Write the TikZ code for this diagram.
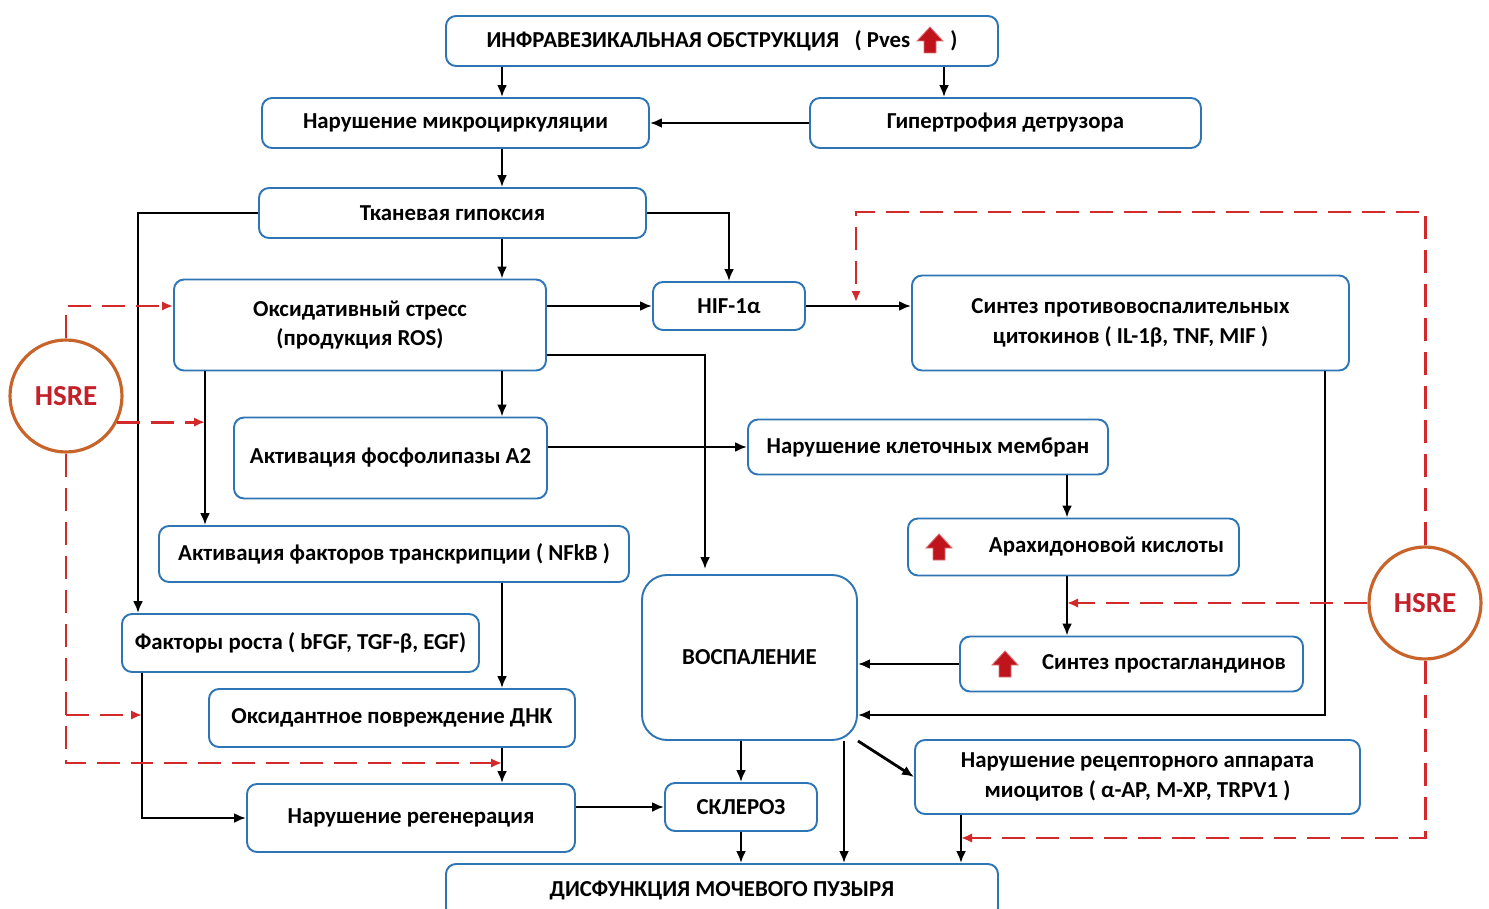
\documentclass[tikz,border=0pt]{standalone}
\usepackage{fontspec}
\setmainfont{Carlito}
\usepackage{tikz}
\usetikzlibrary{positioning, calc, arrows.meta}
\definecolor{boxblue}{HTML}{2E75B6}
\definecolor{hsred}{HTML}{D22A2A}
\definecolor{hstext}{HTML}{C4202A}
\definecolor{hsorange}{HTML}{C8642A}
\definecolor{uparred}{HTML}{C0141C}

\tikzset{
  box/.style={draw=boxblue, line width=1.1pt, rounded corners=0.2cm, fill=white, align=center,
    inner sep=0pt, font=\bfseries\fontsize{13}{17}\selectfont},
  sz/.style 2 args={minimum width=#1*0.02cm, minimum height=#2*0.02cm},
  arr/.style={-{Latex[length=2.4mm,width=2mm]}, line width=1.6pt},
  redarr/.style={-{Latex[length=2.2mm,width=1.9mm]}, draw=hsred, line width=1.7pt,
    dash pattern=on 0.46cm off 0.22cm},
  hsre/.style={circle, draw=hsorange, line width=1.8pt, minimum size=2.24cm, inner sep=0pt,
    text=hstext, fill=white, font=\bfseries\fontsize{16.5}{20}\selectfont},
  uparr/.pic={\filldraw[fill=uparred, draw=uparred!60!white, line width=0.5pt]
    (-6,13) -- (6,13) -- (6,1) -- (13,1) -- (0,-13) -- (-13,1) -- (-6,1) -- cycle;}
}

\begin{document}
\begin{tikzpicture}[x=0.02cm, y=-0.02cm]
      \useasboundingbox (0,0) rectangle (1489,909);
      % boxes
      \node[box, sz={552}{50}] (obstr) at (722,41) {ИНФРАВЕЗИКАЛЬНАЯ ОБСТРУКЦИЯ\ \ \ ( Pves\hspace{0.8cm})};
      \node[box, sz={387}{50}] (micro) at (455.5,123) {Нарушение микроциркуляции};
      \node[box, sz={391}{50}] (hyper) at (1005.5,123) {Гипертрофия детрузора};
      \node[box, sz={387}{50}] (hypox) at (452.5,213) {Тканевая гипоксия};
      \node[box, sz={372}{91}] (oxid) at (360,325) {Оксидативный стресс\\(продукция ROS)};
      \node[box, sz={152}{48}] (hif) at (729,306) {HIF-1α};
      \node[box, sz={437}{95}] (cyto) at (1130.5,323) {Синтез противовоспалительных\\цитокинов ( IL-1β, TNF, MIF )};
      \node[box, sz={313}{81}] (phos) at (390.5,458) {Активация фосфолипазы А2};
      \node[box, sz={360}{55}] (membr) at (928,447) {Нарушение клеточных мембран};
      \node[box, sz={470}{56}] (nfkb) at (394,554) {Активация факторов транскрипции ( NFkB )};
      \node[box, sz={331}{57}] (arach) at (1073.5,547) {\hspace*{1.32cm}Арахидоновой кислоты};
      \node[box, sz={215}{165}, rounded corners=0.5cm] (infl) at (749.5,657.5) {ВОСПАЛЕНИЕ};
      \node[box, sz={357}{58}] (growth) at (300.5,643) {Факторы роста ( bFGF, TGF-β, EGF)};
      \node[box, sz={343}{55}] (prost) at (1131.5,664) {\hspace*{1.3cm}Синтез простагландинов};
      \node[box, sz={366}{58}] (dna) at (392,718) {Оксидантное повреждение ДНК};
      \node[box, sz={445}{74}] (recep) at (1137.5,777) {Нарушение рецепторного аппарата\\миоцитов ( α-АР, М-ХР, TRPV1 )};
      \node[box, sz={328}{68}] (regen) at (411,818) {Нарушение регенерация};
      \node[box, sz={152}{48}] (scler) at (741,807) {СКЛЕРОЗ};
      \node[box, sz={552}{54}] (dysf) at (722,891) {ДИСФУНКЦИЯ МОЧЕВОГО ПУЗЫРЯ};
      \node[hsre] (hsreL) at (66,396) {HSRE};
      \node[hsre] (hsreR) at (1425,603) {HSRE};
      \pic at (930,40) {uparr};
      \pic at ([xshift=0.64cm]arach.west) {uparr};
      \pic at ([xshift=0.92cm]prost.west) {uparr};
      % lanes
      \coordinate (spine) at (502,0);
      \coordinate (laneB) at (944,0);
      \coordinate (laneLoop) at (138,0);
      \coordinate (laneInfl) at (705,0);
      \coordinate (laneNf) at (205,0);
      \coordinate (laneAr) at (1067,0);
      \coordinate (laneCy) at (1325,0);
      \coordinate (laneGr) at (142,0);
      \coordinate (laneDys) at (844,0);
      \coordinate (laneRc) at (961,0);
      \coordinate (rowOx) at (0,355);
      \coordinate (rowCy) at (0,715);
      \coordinate (rowRd) at (0,763);
      \coordinate (rowRc) at (0,838);
      \coordinate (redTop) at (856,212);
      % black arrows
      \draw[arr] (obstr.south -| spine) -- (micro.north -| spine);
      \draw[arr] (obstr.south -| laneB) -- (hyper.north -| laneB);
      \draw[arr] (hyper.west) -- (micro.east);
      \draw[arr] (micro.south -| spine) -- (hypox.north -| spine);
      \draw[arr] (hypox.south -| spine) -- (oxid.north -| spine);
      \draw[arr] (hypox.west) -| (growth.north -| laneLoop);
      \draw[arr] (hypox.east) -| (hif.north);
      \draw[arr] (oxid.east |- hif.west) -- (hif.west);
      \draw[arr] (hif.east) -- (cyto.west |- hif.east);
      \draw[arr, shorten >=0.1cm] (oxid.east |- rowOx) -| (infl.north -| laneInfl);
      \draw[arr] (oxid.south -| spine) -- (phos.north -| spine);
      \draw[arr] (oxid.south -| laneNf) -- (nfkb.north -| laneNf);
      \draw[arr] (phos.east |- membr.west) -- (membr.west);
      \draw[arr] (membr.south -| laneAr) -- (arach.north -| laneAr);
      \draw[arr] (arach.south -| laneAr) -- (prost.north -| laneAr);
      \draw[arr] (prost.west) -- (prost.west -| infl.east);
      \draw[arr] (cyto.south -| laneCy) |- (infl.east |- rowCy);
      \draw[arr] (nfkb.south -| spine) -- (dna.north -| spine);
      \draw[arr] (growth.south -| laneGr) |- (regen.west);
      \draw[arr] (dna.south -| spine) -- (regen.north -| spine);
      \draw[arr] (regen.east |- scler.west) -- (scler.west);
      \draw[arr] (infl.south -| scler.north) -- (scler.north);
      \draw[arr] (scler.south) -- (dysf.north -| scler.south);
      \draw[arr] (infl.south -| laneDys) -- (dysf.north -| laneDys);
      \draw[arr] (infl.south east) -- (recep.west);
      \draw[arr] (recep.south -| laneRc) -- (dysf.north -| laneRc);
      % HSRE links
      \draw[redarr] (hsreL.north) |- (oxid.west |- hif.west);
      \draw[redarr] (hsreL.-27) -- (hsreL.-27 -| laneNf);
      \draw[redarr] (hsreL.south) |- (rowRd -| spine);
      \draw[redarr] (hsreL.south |- rowCy) -- (rowCy -| laneGr);
      \draw[redarr] (hsreR.north) |- (redTop) -- ([yshift=0.08cm]redTop |- hif.east);
      \draw[redarr] (hsreR.west) -- (hsreR.west -| laneAr);
      \draw[redarr] (hsreR.south) |- (rowRc -| laneRc);
\end{tikzpicture}
\end{document}
